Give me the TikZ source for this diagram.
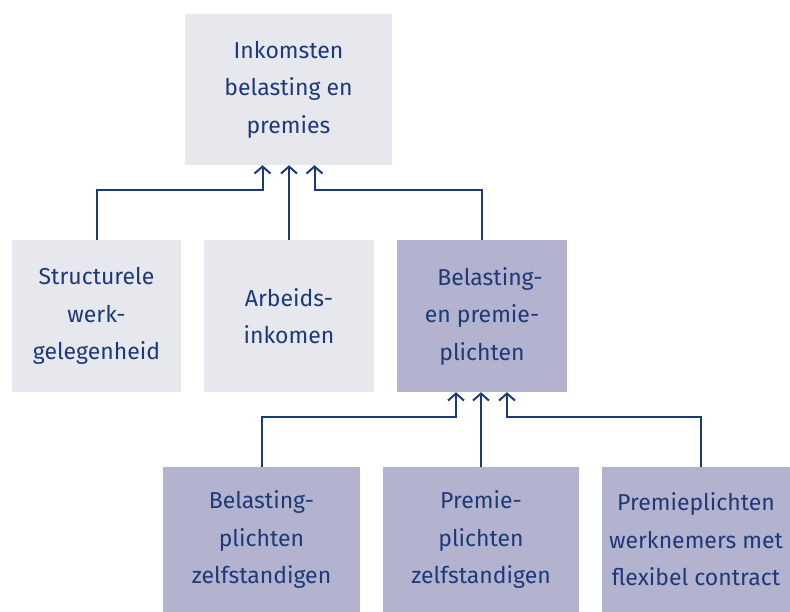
\documentclass[tikz,border=0pt]{standalone}
\usepackage{fontspec}
\setmainfont{Fira Sans}
\usetikzlibrary{arrows.meta}
\definecolor{inkblue}{HTML}{1D3A78}
\definecolor{boxgrey}{HTML}{E7E8EE}
\definecolor{boxlilac}{HTML}{B3B3CF}

\begin{document}
\begin{tikzpicture}[x=1pt,y=-1pt]
      \tikzstyle{box}=[inner sep=0pt,text=inkblue,align=center,font=\fontsize{23}{37.5}\selectfont]
      \tikzstyle{pale}=[box,fill=boxgrey]
      \tikzstyle{dark}=[box,fill=boxlilac]
      \tikzstyle{link}=[draw=inkblue,line width=2pt,-{Straight Barb[length=7pt,width=16pt]}]
      \useasboundingbox (0,0) rectangle (790,612);
      % top
      \node[pale,minimum width=207pt,minimum height=151pt] (inkomsten) at (288.5,89.5) {Inkomsten\\belasting en\\premies};
      % middle row
      \node[pale,minimum width=169pt,minimum height=152pt] (werk) at (96.5,316) {Structurele\\werk-\\gelegenheid};
      \node[pale,minimum width=170pt,minimum height=152pt] (arbeid) at (289,316) {Arbeids-\\inkomen};
      \node[dark,minimum width=170pt,minimum height=152pt] (plicht) at (482,316) {\hspace*{16pt}Belasting-\\en premie-\\plichten};
      % bottom row
      \node[dark,minimum width=197pt,minimum height=145pt] (zelfbel) at (261.5,539.5) {Belasting-\\plichten\\zelfstandigen};
      \node[dark,minimum width=196pt,minimum height=145pt] (zelfprem) at (481,539.5) {Premie-\\plichten\\zelfstandigen};
      \node[dark,minimum width=188pt,minimum height=145pt] (flex) at (696,539.5) {Premieplichten\\werknemers met\\flexibel contract};
      % connectors
      \draw[link] (werk.north) |- ([xshift=-26pt,yshift=-25pt]inkomsten.south) -- ([xshift=-26pt]inkomsten.south);
      \draw[link] (arbeid.north) -- (arbeid.north |- inkomsten.south);
      \draw[link] (plicht.north) |- ([xshift=26pt,yshift=-25pt]inkomsten.south) -- ([xshift=26pt]inkomsten.south);
      \draw[link] (zelfbel.north) |- ([xshift=-26pt,yshift=-25pt]plicht.south) -- ([xshift=-26pt]plicht.south);
      \draw[link] (zelfprem.north) -- (zelfprem.north |- plicht.south);
      \draw[link] ([xshift=4.5pt]flex.north) |- ([xshift=25pt,yshift=-25pt]plicht.south) -- ([xshift=25pt]plicht.south);
\end{tikzpicture}
\end{document}
